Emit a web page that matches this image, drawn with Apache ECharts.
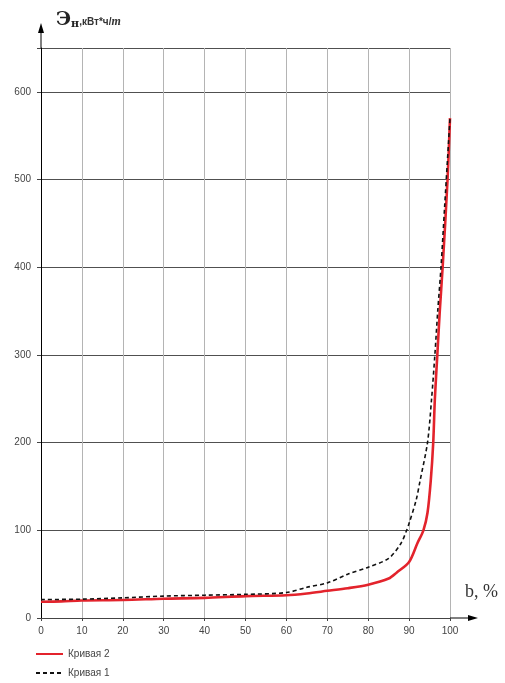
<!DOCTYPE html>
<html>
<head>
<meta charset="utf-8">
<script src="https://cdn.jsdelivr.net/npm/echarts@6/dist/echarts.min.js"></script>
<style>html,body{margin:0;padding:0;background:#fff}#c{width:505px;height:683px}</style>
</head>
<body>
<div id="c"></div>
<script>
// Кривая 2 (red, solid)
const xRed = [0, 5, 10, 20, 30, 40, 50, 60, 65, 70, 75, 80, 85, 87, 90, 92, 93.5, 94.5, 95.3, 95.9, 96.3, 96.9, 97.5, 98.2, 99.4, 100];
const yRed = [18.5, 19, 20, 20.5, 22, 23, 25, 26, 28, 31, 34, 38, 45, 52, 64, 85, 100, 120, 157, 200, 250, 300, 350, 400, 500, 570];
// Кривая 1 (black, dashed)
const xBlack = [0, 10, 20, 30, 40, 50, 60, 65, 70, 75, 80, 85, 88, 89.4, 90, 91.7, 92.7, 94.5, 95.5, 96.3, 97, 97.8, 98.7, 100];
const yBlack = [21, 21.5, 23, 25, 26, 27, 29, 35, 40, 50, 58, 68, 85, 100, 108, 134, 157, 200, 250, 300, 350, 400, 470, 570];
const xTicks = [0, 10, 20, 30, 40, 50, 60, 70, 80, 90, 100];
const yTicks = [0, 100, 200, 300, 400, 500, 600];

const pair = (xs, ys) => xs.map((x, i) => [x, ys[i]]);

const chart = echarts.init(document.getElementById('c'), null, {renderer: 'canvas'});
const option = {
  animation: false,
  backgroundColor: '#fff',
  title: {
    left: 51, top: 4,
    text: '{a|Э}{b|н}{c|,кВт*ч/}{d|т}',
    textStyle: {
      rich: {
        a: {fontFamily: 'DejaVu Serif', fontSize: 19, color: '#222', verticalAlign: 'bottom'},
        b: {fontFamily: 'DejaVu Serif', fontSize: 11, fontWeight: 'bold', color: '#222', padding: [10, 0, 0, 0], verticalAlign: 'bottom'},
        c: {fontFamily: 'Liberation Sans', fontSize: 10, color: '#333', verticalAlign: 'bottom', padding: [0, 0, 3, 0]},
        d: {fontFamily: 'Liberation Serif', fontStyle: 'italic', fontSize: 12, color: '#333', verticalAlign: 'bottom', padding: [0, 0, 2, 0]}
      }
    }
  },
  legend: {
    orient: 'vertical', left: 35, top: 649, padding: 0,
    itemWidth: 27, itemHeight: 10, itemGap: 9,
    data: ['Кривая 2', 'Кривая 1'],
    itemStyle: {opacity: 0},
    textStyle: {fontFamily: 'Liberation Sans', fontSize: 10, color: '#444'}
  },
  grid: {left: 41, right: 55, top: 48, bottom: 65, containLabel: false},
  xAxis: {
    type: 'value', min: 0, max: 100, interval: 10,
    axisLine: {show: true, lineStyle: {color: '#444', width: 1}},
    axisTick: {show: true, length: 3, lineStyle: {color: '#444'}},
    axisLabel: {margin: 8, fontFamily: 'Liberation Sans', fontSize: 10, color: '#444',
      formatter: v => (xTicks.indexOf(v) >= 0 ? String(v) : '')},
    splitLine: {show: true, lineStyle: {color: '#b4b4b4', width: 1}}
  },
  yAxis: {
    type: 'value', min: 0, max: 650, interval: 100,
    axisLine: {show: true, lineStyle: {color: '#000', width: 1}},
    axisTick: {show: true, length: 4, lineStyle: {color: '#444'}},
    axisLabel: {margin: 10, fontFamily: 'Liberation Sans', fontSize: 10, color: '#444',
      formatter: v => (yTicks.indexOf(v) >= 0 ? String(v) : '')},
    splitLine: {show: true, lineStyle: {color: '#505050', width: 1}}
  },
  series: [
    {
      name: 'Кривая 2', type: 'line', symbol: 'none', smooth: 0.3, z: 3,
      lineStyle: {color: '#e3232c', width: 2.6},
      itemStyle: {color: '#e3232c'},
      data: pair(xRed, yRed)
    },
    {
      name: 'Кривая 1', type: 'line', symbol: 'none', smooth: 0.3, z: 4,
      lineStyle: {color: '#111', width: 1.6, type: [4, 3]},
      itemStyle: {color: '#111'},
      data: pair(xBlack, yBlack)
    }
  ]
};
chart.setOption(option);

// axis arrow extensions, positioned through the chart's own scales
const pO = chart.convertToPixel({gridIndex: 0}, [0, 0]);
const pTop = chart.convertToPixel({gridIndex: 0}, [0, 650]);
const pXr = chart.convertToPixel({gridIndex: 0}, [100, 0]);
const yTip = pTop[1] - 25;
const xTip = pXr[0] + 28;
chart.setOption({
  graphic: [
    {type: 'line', shape: {x1: pO[0], y1: pTop[1], x2: pO[0], y2: yTip + 6}, style: {stroke: '#000', lineWidth: 1}},
    {type: 'polygon', shape: {points: [[pO[0], yTip], [pO[0] - 3, yTip + 10], [pO[0] + 3, yTip + 10]]}, style: {fill: '#000'}},
    {type: 'line', shape: {x1: pXr[0], y1: pO[1], x2: xTip - 6, y2: pO[1]}, style: {stroke: '#000', lineWidth: 1}},
    {type: 'polygon', shape: {points: [[xTip, pO[1]], [xTip - 10, pO[1] - 3], [xTip - 10, pO[1] + 3]]}, style: {fill: '#000'}},
    {type: 'text', left: pXr[0] + 15, top: pO[1] - 35,
      style: {text: 'b, %', font: '18px "Liberation Serif"', fill: '#333'}}
  ]
});
</script>
</body>
</html>
